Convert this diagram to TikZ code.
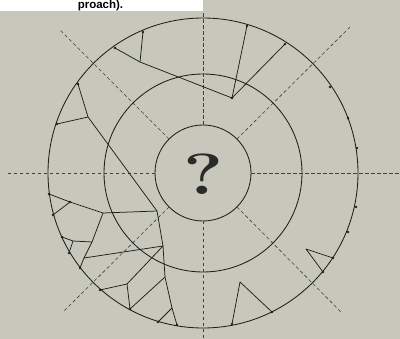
\documentclass[tikz,border=0pt]{standalone}
\usepackage{fontspec}
\setmainfont{Liberation Sans}
\newfontfamily\qfont{Latin Modern Roman}
\definecolor{bg}{RGB}{199,200,187}
\definecolor{ink}{RGB}{30,30,30}
\definecolor{qink}{RGB}{42,42,40}
\begin{document}
\begin{tikzpicture}[x=1pt,y=-1pt,
  ring/.style={draw=ink,line width=0.85pt},
  crack/.style={draw=ink,line width=0.75pt,line join=round},
  axis/.style={draw=ink!85,line width=0.6pt,dash pattern=on 3.5pt off 2.5pt},
  vdot/.style={circle,fill=ink,inner sep=0pt,minimum size=2.8pt},
  qmark/.style={font=\qfont\fontsize{58}{58}\selectfont\bfseries,inner sep=0pt}]
\useasboundingbox (0,0) rectangle (400,339);
\clip (0,0) rectangle (400,339);
\fill[bg] (0,0) rectangle (400,339);
\fill[white] (0,0) rectangle (203,11.5);
\node[font=\fontsize{11.5}{13}\selectfont\bfseries,anchor=base,inner sep=0pt] (cap) at (100.5,8.7) {proach).};

% centre and rings
\coordinate (O) at (203,173);
\draw[ring] (O) circle (155pt);
\draw[ring] (O) circle (99pt);
\draw[ring] (O) circle (48pt);

% dashed axes
\coordinate (hl0) at (155,173); \coordinate (hl1) at (5,173);
\coordinate (hr0) at (251,173); \coordinate (hr1) at (400,173);
\coordinate (vt0) at (203,125); \coordinate (vt1) at (203,12);
\coordinate (vb0) at (203,221); \coordinate (vb1) at (203,339);
\coordinate (nw0) at (169.1,139.1); \coordinate (nw1) at (60,30);
\coordinate (ne0) at (236.9,139.1); \coordinate (ne1) at (350,27);
\coordinate (se0) at (236.9,206.9); \coordinate (se1) at (342,313);
\coordinate (sw0) at (169.1,206.9); \coordinate (sw1) at (63,312);
\foreach \p in {hl,hr,vt,vb,nw,ne,se,sw} \draw[axis] (\p0) -- (\p1);

% vertices
\coordinate (a1) at (143,32);
\coordinate (a2) at (115,48);
\coordinate (a3) at (140,62);
\coordinate (a4) at (232,98);
\coordinate (a5) at (247,26);
\coordinate (a6) at (285,44);
\coordinate (b1) at (78,84);
\coordinate (b2) at (88,117);
\coordinate (b3) at (57,124);
\coordinate (b4) at (157,211);
\coordinate (c1) at (49,194);
\coordinate (c2) at (70,202);
\coordinate (c3) at (53,215);
\coordinate (c4) at (103,213);
\coordinate (c5) at (80,268);
\coordinate (d1) at (62,237);
\coordinate (d2) at (73,241);
\coordinate (d3) at (92,242);
\coordinate (d4) at (69,253);
\coordinate (e1) at (84,258);
\coordinate (e2) at (163,246);
\coordinate (f1) at (127,284);
\coordinate (f2) at (100,290);
\coordinate (f3) at (130,309);
\coordinate (f4) at (165,277);
\coordinate (f5) at (172,308);
\coordinate (f6) at (158,322);
\coordinate (f7) at (177,325);
\coordinate (g1) at (306,249);
\coordinate (g2) at (333,258);
\coordinate (g3) at (323,272);
\coordinate (h1) at (240,282);
\coordinate (h2) at (272,312);
\coordinate (h3) at (232,324);
\coordinate (p1) at (330,87);
\coordinate (p2) at (348,118);
\coordinate (p3) at (357,148);
\coordinate (p4) at (356,207);
\coordinate (p5) at (348,232);

% cracks
\draw[crack] (a2) -- (a3) -- (a4) -- (a5);
\draw[crack] (a1) -- (a3);
\draw[crack] (a4) -- (a6);
\draw[crack] (b1) -- (b2) -- (b4) -- (e2) -- (f4) -- (f5) -- (f7);
\draw[crack] (b3) -- (b2);
\draw[crack] (c1) -- (c2) -- (c4) -- (b4);
\draw[crack] (c2) -- (c3);
\draw[crack] (c4) -- (d3) -- (e1) -- (c5);
\draw[crack] (d1) -- (d2) -- (d3);
\draw[crack] (d2) -- (d4);
\draw[crack] (e1) -- (e2) -- (f1) -- (f2);
\draw[crack] (f1) -- (f3) -- (f4);
\draw[crack] (f5) -- (f6);
\draw[crack] (g2) -- (g1) -- (g3);
\draw[crack] (h2) -- (h1) -- (h3);

% dots
\foreach \v in {a1,a2,a4,a5,a6,b1,b3,c1,c2,c3,c5,d1,d4,f2,f3,f6,f7,g2,g3,h2,h3,p1,p2,p3,p4,p5}
  \node[vdot] at (\v) {};

% question mark
\node[qmark,text=qink,xscale=1.3] (q) at (204,174) {?};
\end{tikzpicture}
\end{document}
